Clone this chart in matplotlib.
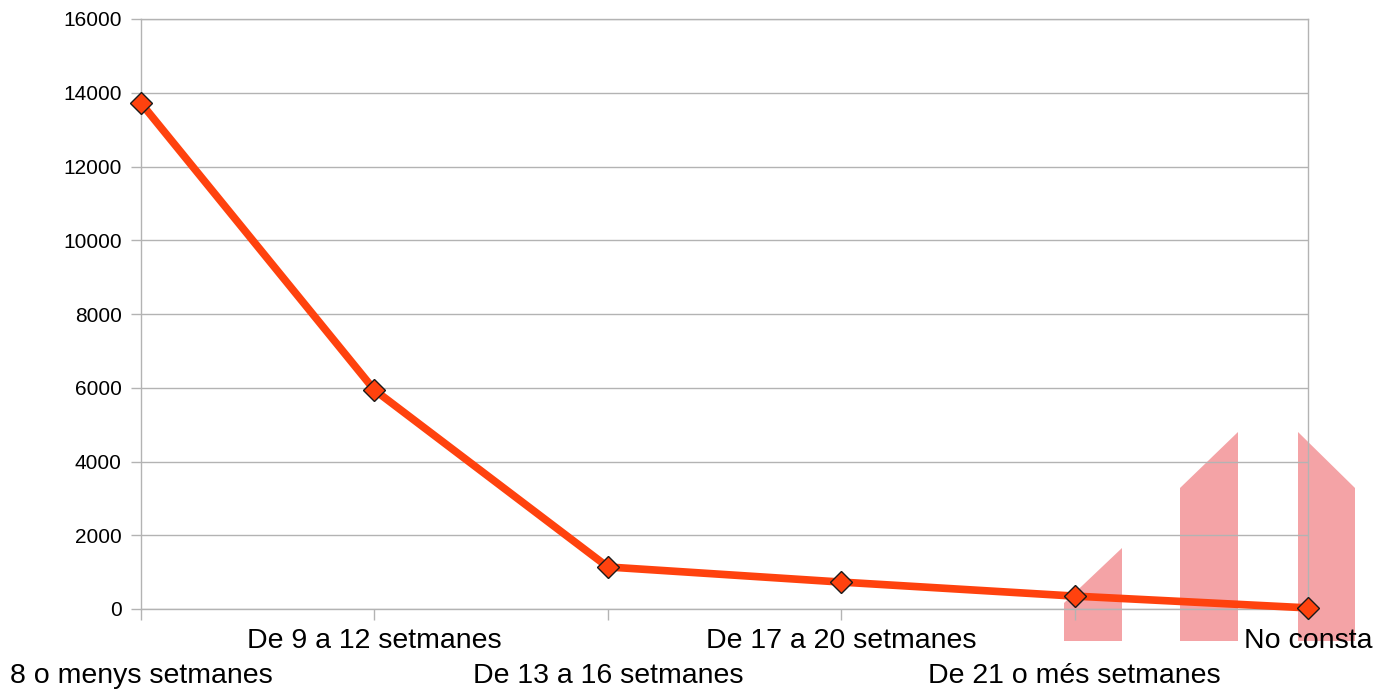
import matplotlib
matplotlib.use("Agg")
import matplotlib.pyplot as plt
from matplotlib.patches import Polygon

categories = ["8 o menys setmanes", "De 9 a 12 setmanes", "De 13 a 16 setmanes",
              "De 17 a 20 setmanes", "De 21 o més setmanes", "No consta"]
values = [13720, 5940, 1140, 730, 350, 30]
yticks = [0, 2000, 4000, 6000, 8000, 10000, 12000, 14000, 16000]

plt.rcParams['font.family'] = ['Liberation Sans', 'DejaVu Sans']

W, H = 1375, 692
fig = plt.figure(figsize=(W / 100, H / 100), dpi=100)
ax = fig.add_axes([141 / W, 1 - 609 / H, (1308 - 141) / W, (609 - 19) / H])
ax.set_facecolor('none')

# pink watermark shapes behind the chart
pink = "#f4a3a6"
shapes = [
    [(1064, 641), (1064, 603), (1122, 548), (1122, 641)],
    [(1180, 641), (1180, 488), (1238, 432), (1238, 641)],
    [(1298, 641), (1298, 432), (1355, 488), (1355, 641)],
]
for pts in shapes:
    fig.patches.append(Polygon([(x / W, 1 - y / H) for x, y in pts], closed=True,
                               transform=fig.transFigure, facecolor=pink,
                               edgecolor='none', zorder=-1))

x = list(range(len(categories)))
ax.plot(x, values, color="#ff420e", linewidth=5.5, marker='D', markersize=11.5,
        markerfacecolor="#ff420e", markeredgecolor="#1a1a1a", markeredgewidth=1,
        zorder=3, clip_on=False)

ax.set_xlim(0, len(categories) - 1)
ax.set_ylim(0, 16000)
ax.set_yticks(yticks)
ax.set_yticklabels([str(v) for v in yticks])
ax.set_xticks(x)
ax.set_xticklabels([])

# staggered category labels (two rows)
for i, c in enumerate(categories):
    dy = -48 if i % 2 == 0 else -23
    ax.annotate(c, xy=(i, 0), xycoords=('data', 'axes fraction'),
                xytext=(0, dy), textcoords='offset points',
                ha='center', va='center', fontsize=20.5, annotation_clip=False)

ax.grid(axis='y', color="#b3b3b3", linewidth=1)
ax.set_axisbelow(True)
for s in ax.spines.values():
    s.set_color("#b3b3b3")
    s.set_linewidth(1)
ax.tick_params(axis='y', length=7, width=1, color="#b3b3b3", labelsize=15, pad=7)
ax.tick_params(axis='x', length=8, width=1, color="#b3b3b3")

fig.savefig("out.png", dpi=100)
